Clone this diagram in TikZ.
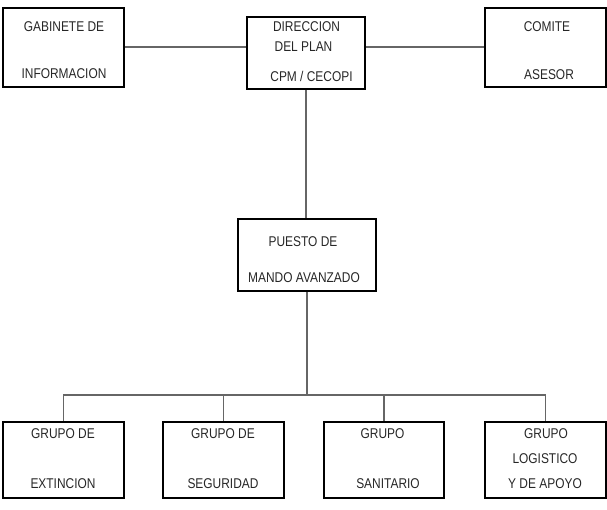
\documentclass[tikz,border=0pt]{standalone}
\usepackage{fontspec}
\setmainfont{Liberation Sans}
\usetikzlibrary{positioning}
\newcommand{\tallcaps}[1]{\scalebox{0.97}[1.15]{#1}}

\begin{document}
\begin{tikzpicture}[x=0.03cm,y=-0.03cm,
    box/.style={draw,line width=1.6pt,inner sep=0pt},
    link/.style={draw=black!60,line width=0.9pt},
    txt/.style={inner sep=0pt,text=black!85,font=\fontsize{10.5}{12}\selectfont}]
    \useasboundingbox (0,0) rectangle (607,510);
    % boxes
    \node[box,minimum width=3.63cm,minimum height=2.37cm] (gab) at (63.5,47.5) {};
    \node[box,minimum width=3.54cm,minimum height=2.16cm] (dir) at (306,53) {};
    \node[box,minimum width=3.63cm,minimum height=2.37cm] (com) at (545.5,47.5) {};
    \node[box,minimum width=4.14cm,minimum height=2.16cm] (pma) at (307,255) {};
    \node[box,minimum width=3.63cm,minimum height=2.28cm] (ext) at (63.5,460) {};
    \node[box,minimum width=3.63cm,minimum height=2.28cm] (seg) at (223.5,460) {};
    \node[box,minimum width=3.60cm,minimum height=2.28cm] (san) at (384,460) {};
    \node[box,minimum width=3.63cm,minimum height=2.28cm] (log) at (545.5,460) {};
    % texts
    \node[txt] (gab1) at (64,27) {\tallcaps{GABINETE DE}};
    \node[txt] (gab2) at (64,74) {\tallcaps{INFORMACION}};
    \node[txt] (dir1) at (306.5,26.5) {\tallcaps{DIRECCION}};
    \node[txt] (dir2) at (303.5,46.5) {\tallcaps{DEL PLAN}};
    \node[txt] (dir3) at (311.5,76) {\tallcaps{CPM / CECOPI}};
    \node[txt] (com1) at (547,27) {\tallcaps{COMITE}};
    \node[txt] (com2) at (549,74.5) {\tallcaps{ASESOR}};
    \node[txt] (pma1) at (303,242) {\tallcaps{PUESTO DE}};
    \node[txt] (pma2) at (304,278) {\tallcaps{MANDO AVANZADO}};
    \node[txt] (ext1) at (63,434) {\tallcaps{GRUPO DE}};
    \node[txt] (ext2) at (63,484) {\tallcaps{EXTINCION}};
    \node[txt] (seg1) at (223,434) {\tallcaps{GRUPO DE}};
    \node[txt] (seg2) at (223,484) {\tallcaps{SEGURIDAD}};
    \node[txt] (san1) at (382.5,434) {\tallcaps{GRUPO}};
    \node[txt] (san2) at (388,484) {\tallcaps{SANITARIO}};
    \node[txt] (log1) at (546,434) {\tallcaps{GRUPO}};
    \node[txt] (log2) at (545,459) {\tallcaps{LOGISTICO}};
    \node[txt] (log3) at (545,484) {\tallcaps{Y DE APOYO}};
    % connectors
    \coordinate (bus) at (305,395);
    \draw[link] (gab.east |- 0,47) -- (dir.west |- 0,47);
    \draw[link] (com.west |- 0,47) -- (dir.east |- 0,47);
    \draw[link] (dir.south) -- (dir.south |- pma.north);
    \draw[link] (pma.south) -- (pma.south |- bus);
    \draw[link] (ext.north) |- (log.north |- bus) -- (log.north);
    \draw[link] (seg.north) -- (seg.north |- bus);
    \draw[link] (san.north) -- (san.north |- bus);
\end{tikzpicture}
\end{document}
